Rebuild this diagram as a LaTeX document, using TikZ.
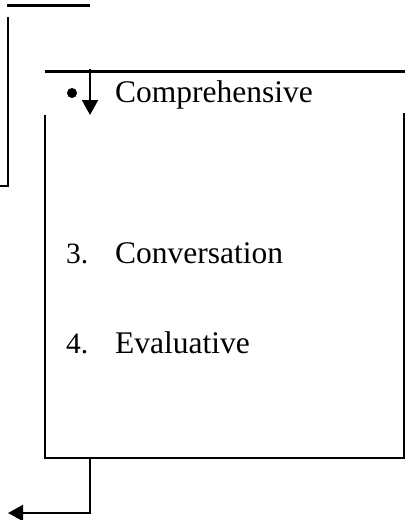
\documentclass[tikz,border=0pt]{standalone}
\usepackage{fontspec}
\setmainfont{Liberation Serif}
\usetikzlibrary{arrows.meta}

\tikzset{
  item/.style={font=\fontsize{31.5}{38}\selectfont, inner sep=0pt, anchor=base west},
  num/.style={font=\fontsize{29.5}{36}\selectfont, inner sep=0pt, anchor=base west},
  heavy/.style={line width=3pt},
  side/.style={line width=1.5pt},
  flow/.style={->, line width=2pt}
}

\begin{document}
\begin{tikzpicture}[x=1pt, y=-1pt, >={Triangle[width=16pt,length=15pt]}]
    \useasboundingbox (0,0) rectangle (405,520);
    % Upper block (cut off)
    \draw[heavy] (7,5) -- (90,5);
    \draw[side] (8,17) -- (8,186) -- (0,186);

    % Box with the list
    \coordinate (topin) at (90,69);
    \coordinate (topout) at (90,115);
    \draw[heavy] (45,71) -- (405,71);
    \draw[flow] (topin) -- (topout);
    \draw[side] (45,115) -- (45,458) -- (404,458) -- (404,113);

    % Items
    \fill (72,93) circle (5);
    \node[item] (comp) at (115,102) {Comprehensive};
    \node[num] (n3) at (66,263) {3.};
    \node[item] (conv) at (115,263) {Conversation};
    \node[num] (n4) at (66,353) {4.};
    \node[item] (eval) at (115,353) {Evaluative};

    % Exit to the left
    \coordinate (botin) at (90,458);
    \coordinate (botout) at (8,513);
    \draw[flow] (botin) |- (botout);
\end{tikzpicture}
\end{document}
